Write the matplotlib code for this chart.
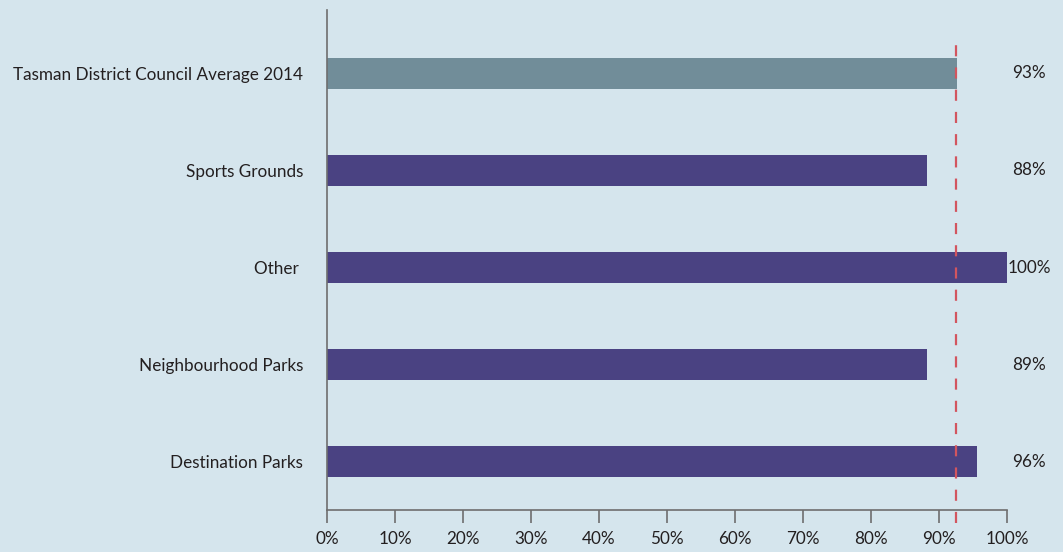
import matplotlib.pyplot as plt

# bottom to top, as drawn
categories = ["Destination Parks", "Neighbourhood Parks", "Other ", "Sports Grounds",
              "Tasman District Council Average 2014"]
values = [95.6, 88.2, 100.0, 88.2, 92.6]
value_labels = ["96%", "89%", "100%", "88%", "93%"]
average = 92.5
ticks = [0, 10, 20, 30, 40, 50, 60, 70, 80, 90, 100]

bg = "#d5e5ed"
purple = "#4a4282"
grey = "#718d99"
red = "#d2555f"
text_col = "#231f20"

plt.rcParams['font.family'] = ['Lato', 'DejaVu Sans']
fs = 12.3

fig = plt.figure(figsize=(10.63, 5.52), dpi=100, facecolor=bg)
ax = fig.add_axes([0.3076, 0.0761, 0.6397, 0.9058])
ax.set_facecolor(bg)

colors = [purple] * 4 + [grey]
y = range(len(categories))
ax.barh(y, values, height=0.32, color=colors, zorder=2)

for yi, lab in zip(y, value_labels):
    ax.text(103.3, yi, lab, ha='center', va='center', fontsize=fs,
            color=text_col, clip_on=False)

ax.plot([average, average], [-0.63, 4.39], color=red, lw=1.6,
        dashes=(5, 5), zorder=3, clip_on=False)

ax.set_xlim(0, 100)
ax.set_ylim(-0.495, 4.65)
ax.set_xticks(ticks)
ax.set_xticklabels([f"{t}%" for t in ticks])
ax.set_yticks(list(y))
ax.set_yticklabels(categories)

for side in ['top', 'right']:
    ax.spines[side].set_visible(False)
for side in ['left', 'bottom']:
    ax.spines[side].set_color("#6e6e6e")
    ax.spines[side].set_linewidth(1.2)

ax.tick_params(axis='x', length=9, width=1.2, color="#6e6e6e",
               labelsize=fs, labelcolor=text_col, pad=6)
ax.tick_params(axis='y', length=0, labelsize=fs, labelcolor=text_col, pad=17)

fig.savefig('out.png', dpi=100, facecolor=bg)
